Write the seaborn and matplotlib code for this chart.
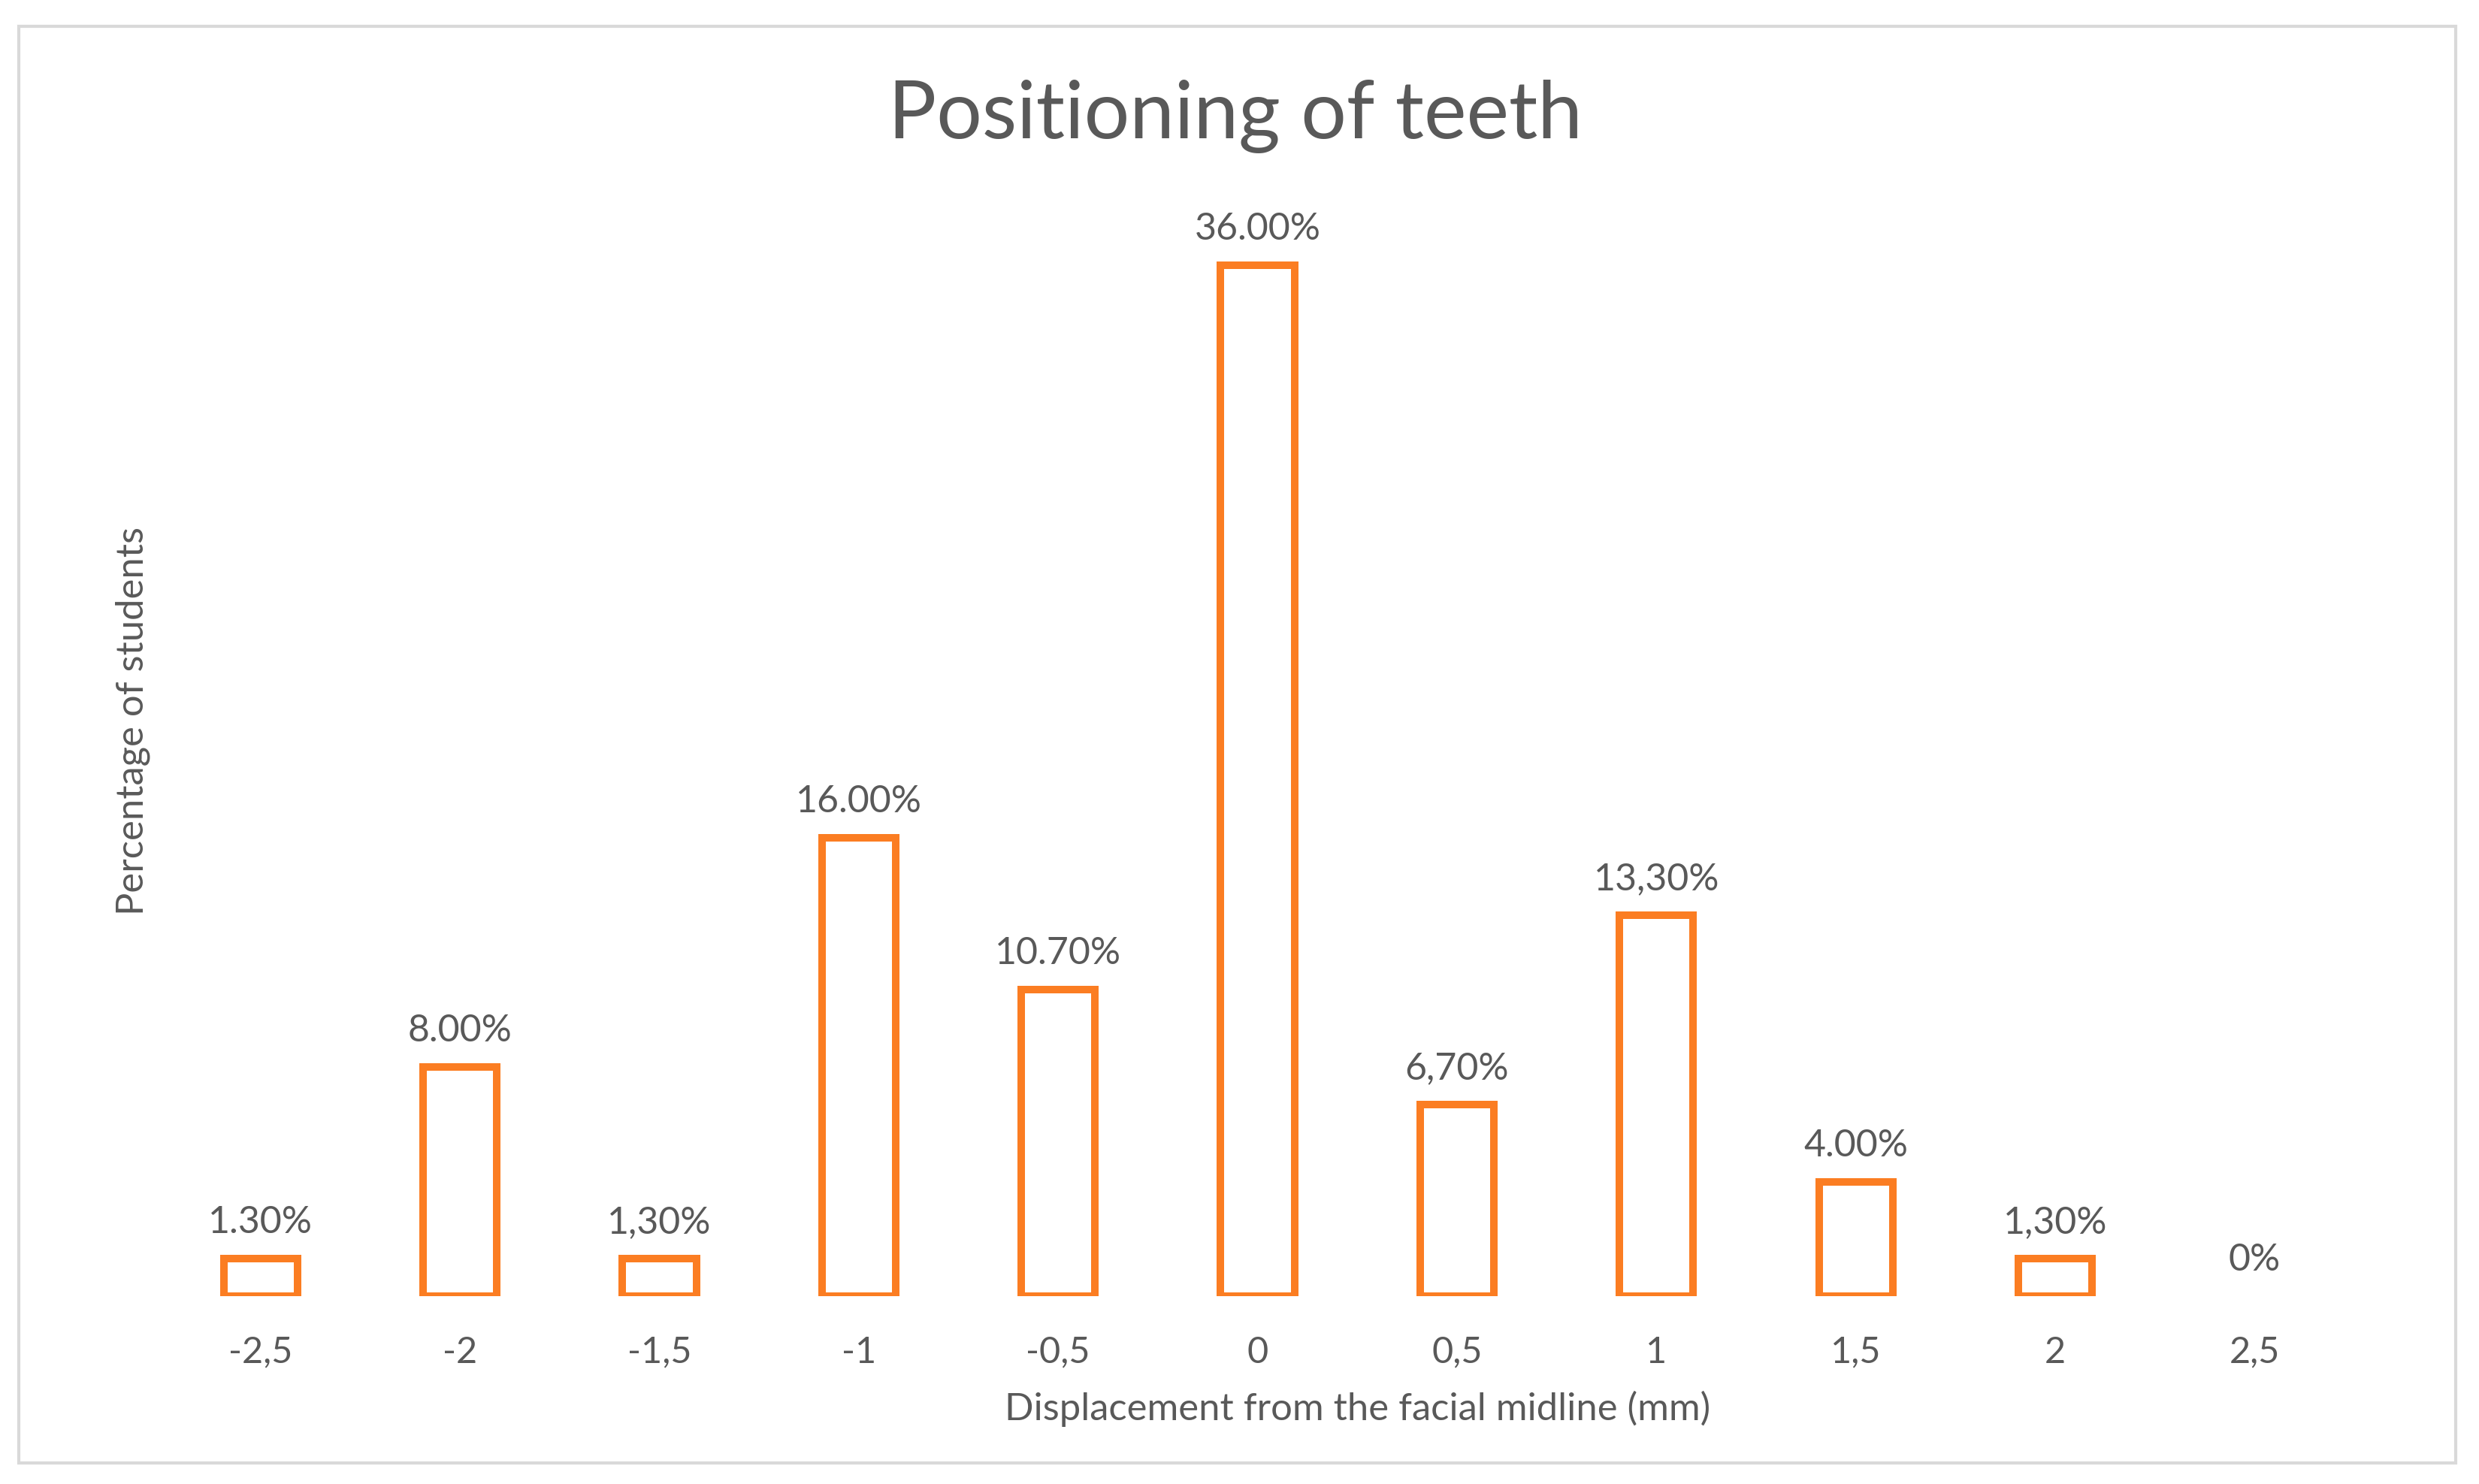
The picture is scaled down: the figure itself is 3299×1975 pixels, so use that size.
import matplotlib
matplotlib.use("Agg")
import matplotlib.pyplot as plt
import matplotlib.patches as mpatches
import seaborn as sns
import pandas as pd

# Displacement categories (mm) and share of students (%)
categories = ["-2,5", "-2", "-1,5", "-1", "-0,5", "0", "0,5", "1", "1,5", "2", "2,5"]
percentages = [1.3, 8.0, 1.3, 16.0, 10.7, 36.0, 6.7, 13.3, 4.0, 1.3, 0.0]
value_labels = ["1.30%", "8.00%", "1,30%", "16.00%", "10.70%", "36.00%",
                "6,70%", "13,30%", "4.00%", "1,30%", "0%"]

orange = "#FB7D22"
text_grey = "#595959"

sns.set_style("white")
plt.rcParams["font.family"] = ["Lato", "DejaVu Sans"]

df = pd.DataFrame({"disp": categories, "pct": percentages})

fig = plt.figure(figsize=(32.99, 19.75), dpi=100)
ax = fig.add_axes([0.0649, 0.1266, 0.8848, 0.7716])

sns.barplot(data=df, x="disp", y="pct", order=categories, color="white",
            edgecolor=orange, linewidth=7.2, width=0.37, ax=ax)

# no outline for the empty 0% bar
for p in ax.patches:
    if p.get_height() == 0:
        p.set_linewidth(0)

ax.bar_label(ax.containers[0], labels=value_labels, padding=18,
             fontsize=36, color=text_grey)

ax.set_ylim(0, 40)
ax.set_xlim(-0.5, len(categories) - 0.5)
sns.despine(ax=ax, left=True, bottom=True)
ax.set_yticks([])
ax.tick_params(axis="x", length=0, pad=38, labelsize=35, labelcolor=text_grey)

ax.set_xlabel("Displacement from the facial midline (mm)", fontsize=36.5, color=text_grey)
ax.xaxis.set_label_coords(0.5454, -0.0984)
ax.xaxis.label.set_va("center")
ax.set_ylabel("Percentage of students", fontsize=36.5, color=text_grey)
ax.yaxis.set_label_coords(-0.0127, 0.502)
ax.yaxis.label.set_va("center")

fig.text(0.4983, 0.9215, "Positioning of teeth", fontsize=77, color=text_grey,
         ha="center", va="center")

# chart frame
fig.patches.append(mpatches.Rectangle((25 / 3299, 1 - 1947 / 1975),
                                      (3268 - 25) / 3299, (1947 - 35) / 1975,
                                      transform=fig.transFigure, fill=False,
                                      edgecolor="#D9D9D9", linewidth=3))

fig.savefig("out.png", dpi=100, facecolor="white")
